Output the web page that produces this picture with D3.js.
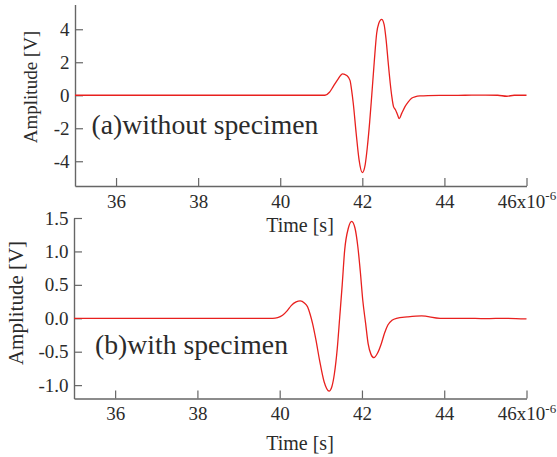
<!DOCTYPE html>
<html>
<head>
<meta charset="utf-8">
<script src="https://cdn.jsdelivr.net/npm/d3@7/dist/d3.min.js"></script>
<style>
  html, body { margin: 0; padding: 0; background: #fff; }
  svg { display: block; }
  text { font-family: "Liberation Serif", "Times New Roman", serif; fill: #2b2b2b; }
</style>
</head>
<body>
<svg id="chart" width="557" height="457"></svg>
<script>
// ---- data (time in microseconds, amplitude in volts) ----
const timeA = [35, 38, 41.0, 41.09, 41.2, 41.29, 41.4, 41.52, 41.62, 41.70, 41.74, 41.78, 41.85, 41.92, 42.0, 42.07, 42.12, 42.18, 42.23, 42.29, 42.35, 42.40, 42.47, 42.53, 42.58, 42.63, 42.68, 42.72, 42.76, 42.81, 42.86, 42.90, 42.96, 43.04, 43.12, 43.2, 43.3, 43.41, 43.6, 44.0, 44.5, 45.0, 45.3, 45.52, 45.7, 46.0];
const ampA  = [0, 0, 0, 0.0, 0.18, 0.52, 0.95, 1.3, 1.2, 0.9, 0.3, -0.5, -2.3, -3.9, -4.69, -4.2, -3.2, -1.6, 0.0, 2.0, 3.76, 4.35, 4.6, 4.3, 3.35, 2.0, 0.73, -0.1, -0.69, -0.89, -1.2, -1.42, -1.1, -0.69, -0.4, -0.18, -0.08, -0.04, -0.02, -0.01, 0.0, 0.01, 0.0, -0.06, 0.0, 0.0];

const timeB = [35, 38, 39.7, 39.83, 39.95, 40.07, 40.18, 40.28, 40.40, 40.50, 40.60, 40.68, 40.74, 40.80, 40.88, 40.97, 41.08, 41.2, 41.27, 41.33, 41.40, 41.46, 41.52, 41.58, 41.67, 41.75, 41.83, 41.90, 41.96, 42.02, 42.09, 42.15, 42.22, 42.29, 42.38, 42.47, 42.55, 42.63, 42.73, 42.84, 43.1, 43.45, 43.9, 44.5, 45.0, 45.5, 46.0];
const ampB  = [0, 0, 0, 0.0, 0.01, 0.045, 0.11, 0.19, 0.245, 0.26, 0.23, 0.17, 0.06, -0.08, -0.32, -0.63, -0.95, -1.09, -1.02, -0.83, -0.45, 0.02, 0.5, 1.02, 1.35, 1.45, 1.35, 1.07, 0.7, 0.27, -0.08, -0.38, -0.54, -0.59, -0.52, -0.38, -0.22, -0.10, -0.03, 0.0, 0.02, 0.035, 0.0, 0.0, -0.005, 0.0, -0.01];

const xTicks = [36, 38, 40, 42, 44, 46];
const xTickLabels = ["36", "38", "40", "42", "44", "46x10"];
const xExponent = "-6";
const yTicksA = [-4, -2, 0, 2, 4];
const yTickLabelsA = ["-4", "-2", "0", "2", "4"];
const yTicksB = [-1.0, -0.5, 0.0, 0.5, 1.0, 1.5];
const yTickLabelsB = ["-1.0", "-0.5", "0.0", "0.5", "1.0", "1.5"];
const titles = ["(a)without specimen", "(b)with specimen"];
const xLabel = "Time [s]";
const yLabel = "Amplitude [V]";

// ---- drawing ----
const svg = d3.select("#chart");
const axisColor = "#666";
const lineColor = "#e8201e";

const panels = [
  { t: timeA, v: ampA, yDomain: [-5.5, 5.5], yRange: [186, 4.5], yTicks: yTicksA, yLabels: yTickLabelsA,
    xLeft: 75, title: titles[0], titleX: 91.5, titleY: 134, yLabX: 36.7, yLabY: 87, yLabSize: 19, xLabY: 231.5 },
  { t: timeB, v: ampB, yDomain: [-1.2, 1.5], yRange: [398.5, 218], yTicks: yTicksB, yLabels: yTickLabelsB,
    xLeft: 74, title: titles[1], titleX: 95, titleY: 354, yLabX: 23.3, yLabY: 303, yLabSize: 21, xLabY: 450 }
];

panels.forEach(p => {
  const x = d3.scaleLinear().domain([35, 46]).range([p.xLeft, 526.5]);
  const y = d3.scaleLinear().domain(p.yDomain).range(p.yRange);
  const g = svg.append("g");

  // x axis
  const xa = g.append("g").attr("transform", `translate(0,${p.yRange[0]})`)
    .call(d3.axisBottom(x).tickValues(xTicks).tickSizeInner(-8).tickSizeOuter(0).tickPadding(8.5)
      .tickFormat((d, i) => xTickLabels[i]));
  // y axis
  const ya = g.append("g").attr("transform", `translate(${p.xLeft},0)`)
    .call(d3.axisLeft(y).tickValues(p.yTicks).tickSizeInner(-8).tickSizeOuter(0).tickPadding(5.5)
      .tickFormat((d, i) => p.yLabels[i]));

  [xa, ya].forEach(a => {
    a.select(".domain").attr("stroke", axisColor).attr("stroke-width", 1.4);
    a.selectAll(".tick line").attr("stroke", axisColor).attr("stroke-width", 1.2);
    a.selectAll(".tick text").attr("fill", "#2b2b2b").style("font-size", "19px")
      .style("font-family", '"Liberation Serif", serif');
  });

  // exponent on last x tick
  xa.selectAll(".tick text").filter((d, i) => i === xTicks.length - 1)
    .append("tspan").attr("dy", "-0.6em").style("font-size", "13px").text(xExponent);

  // signal
  const line = d3.line().x((d, i) => x(p.t[i])).y(d => y(d)).curve(d3.curveMonotoneX);
  g.append("path").datum(p.v).attr("d", line)
    .attr("fill", "none").attr("stroke", lineColor).attr("stroke-width", 1.3)
    .attr("stroke-linejoin", "round");

  // panel title
  g.append("text").attr("x", p.titleX).attr("y", p.titleY)
    .style("font-size", "27.7px").text(p.title);

  // axis titles
  g.append("text").attr("x", 300).attr("y", p.xLabY).attr("text-anchor", "middle")
    .style("font-size", "20px").text(xLabel);
  g.append("text").attr("transform", `translate(${p.yLabX},${p.yLabY}) rotate(-90)`)
    .attr("text-anchor", "middle").style("font-size", p.yLabSize + "px").text(yLabel);
});
</script>
</body>
</html>
